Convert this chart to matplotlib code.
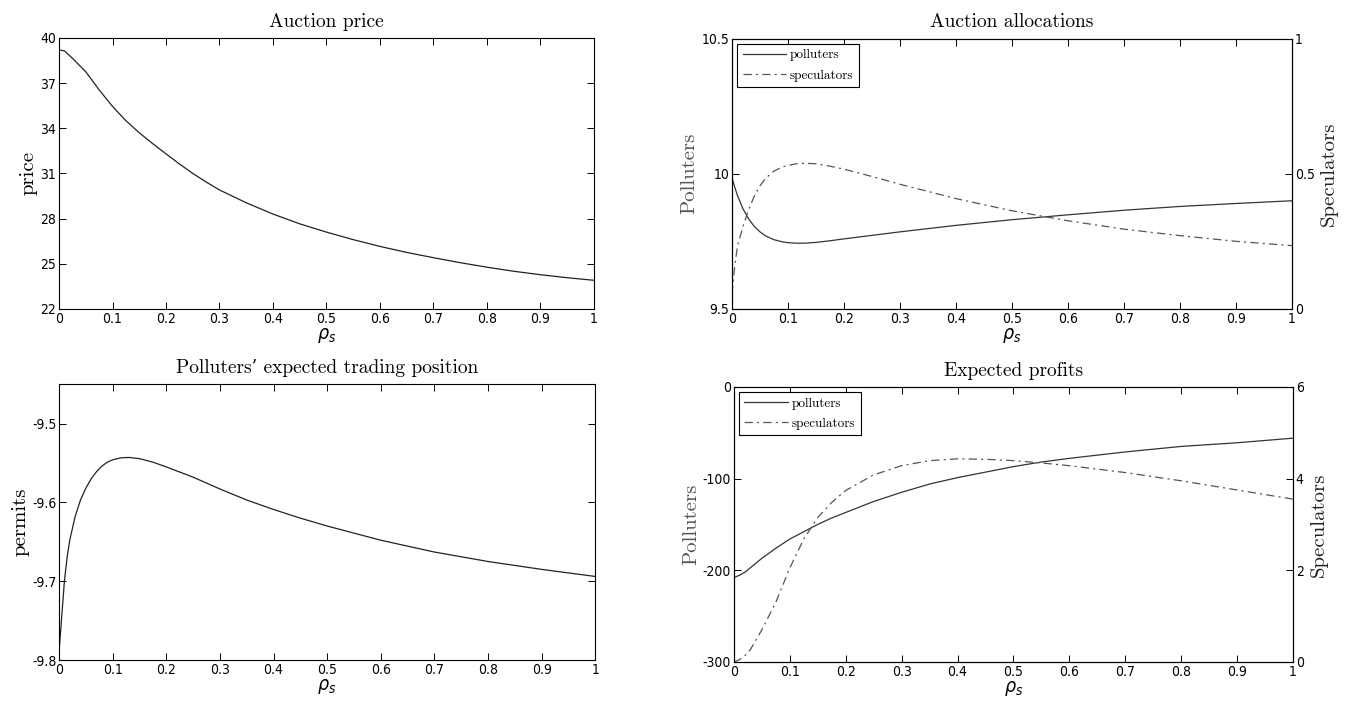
import matplotlib
matplotlib.use('Agg')
import matplotlib.pyplot as plt

# values
rho_price = [0, 0.01, 0.025, 0.05, 0.075, 0.1, 0.125, 0.15, 0.175, 0.2, 0.225, 0.25,
             0.275, 0.3, 0.35, 0.4, 0.45, 0.5, 0.55, 0.6, 0.65, 0.7, 0.75, 0.8, 0.85,
             0.9, 0.95, 1.0]
price = [39.2, 39.14, 38.65, 37.75, 36.55, 35.45, 34.5, 33.7, 32.98, 32.3, 31.63, 31.0,
         30.43, 29.9, 29.05, 28.3, 27.65, 27.1, 26.6, 26.15, 25.75, 25.4, 25.07, 24.77,
         24.5, 24.27, 24.07, 23.9]

rho_pos = [0, 0.005, 0.01, 0.015, 0.02, 0.03, 0.04, 0.05, 0.06, 0.07, 0.08, 0.09, 0.1,
           0.115, 0.13, 0.15, 0.175, 0.2, 0.25, 0.3, 0.35, 0.4, 0.45, 0.5, 0.55, 0.6,
           0.7, 0.8, 0.9, 1.0]
position = [-9.79, -9.745, -9.70, -9.67, -9.648, -9.618, -9.597, -9.582, -9.570, -9.561,
            -9.554, -9.549, -9.546, -9.5435, -9.543, -9.5445, -9.549, -9.555, -9.568,
            -9.583, -9.597, -9.609, -9.620, -9.630, -9.639, -9.648, -9.663, -9.675,
            -9.685, -9.694]

rho_alloc = [0, 0.005, 0.01, 0.02, 0.03, 0.04, 0.05, 0.06, 0.075, 0.09, 0.1, 0.115, 0.13,
             0.15, 0.175, 0.2, 0.25, 0.3, 0.4, 0.5, 0.6, 0.7, 0.8, 0.9, 1.0]
alloc_polluters = [9.986, 9.95, 9.918, 9.869, 9.832, 9.805, 9.785, 9.770, 9.756, 9.748,
                   9.745, 9.743, 9.743, 9.746, 9.752, 9.759, 9.772, 9.785, 9.809, 9.83,
                   9.848, 9.865, 9.879, 9.89, 9.9]
alloc_speculators = [0.055, 0.16, 0.234, 0.307, 0.369, 0.418, 0.455, 0.483, 0.51, 0.525,
                     0.531, 0.537, 0.539, 0.537, 0.528, 0.517, 0.49, 0.461, 0.408, 0.363,
                     0.326, 0.295, 0.271, 0.25, 0.234]

rho_profit = [0, 0.01, 0.02, 0.03, 0.05, 0.075, 0.1, 0.125, 0.15, 0.175, 0.2, 0.25, 0.3,
              0.35, 0.4, 0.45, 0.5, 0.55, 0.6, 0.7, 0.8, 0.9, 1.0]
profit_polluters = [-208, -205.5, -202, -197, -187, -176, -166, -158, -150, -143, -137,
                    -125, -115, -106, -99, -93, -87, -82, -78, -71, -65, -61, -56]
profit_speculators = [0, 0.05, 0.14, 0.28, 0.7, 1.3, 2.05, 2.68, 3.15, 3.48, 3.74, 4.08,
                      4.28, 4.39, 4.43, 4.42, 4.39, 4.34, 4.28, 4.13, 3.95, 3.75, 3.55]

x_ticks = [0, 0.1, 0.2, 0.3, 0.4, 0.5, 0.6, 0.7, 0.8, 0.9, 1]
x_tick_labels = ['0', '0.1', '0.2', '0.3', '0.4', '0.5', '0.6', '0.7', '0.8', '0.9', '1']

plt.rcParams['font.family'] = ['DejaVu Sans']
plt.rcParams['font.stretch'] = 'condensed'
plt.rcParams['axes.unicode_minus'] = False
plt.rcParams['lines.scale_dashes'] = False
plt.rcParams['axes.linewidth'] = 0.8

serif = ['cmr10', 'DejaVu Serif']
tick_size = 10
title_size = 14
ylab_size = 15
dashdot = (0, (6, 3, 1.5, 3))

fig = plt.figure(figsize=(13.54, 7.02), dpi=100)


def style_axes(ax, right=True):
    ax.set_xlim(0, 1)
    ax.set_xticks(x_ticks)
    ax.set_xticklabels(x_tick_labels)
    ax.tick_params(direction='in', length=5, width=0.7, labelsize=tick_size,
                   top=True, right=right, pad=2)
    ax.set_xlabel(r'$\rho_s$', fontsize=14, labelpad=0)


# Auction price
ax1 = fig.add_axes([0.0436, 0.560, 0.395, 0.386])
ax1.plot(rho_price, price, color='#222222', lw=0.9)
ax1.set_ylim(22, 40)
ax1.set_yticks([22, 25, 28, 31, 34, 37, 40])
style_axes(ax1)
ax1.set_title('Auction price', family=serif, fontsize=title_size, pad=8)
ax1.set_ylabel('price', family=serif, fontsize=ylab_size, labelpad=2)

# Polluters' expected trading position
ax3 = fig.add_axes([0.0436, 0.0598, 0.396, 0.393])
ax3.plot(rho_pos, position, color='#222222', lw=0.9)
ax3.set_ylim(-9.8, -9.45)
ax3.set_yticks([-9.8, -9.7, -9.6, -9.5])
ax3.set_yticklabels(['-9.8', '-9.7', '-9.6', '-9.5'])
style_axes(ax3)
ax3.set_title('Polluters\u2019 expected trading position', family=serif,
              fontsize=title_size, pad=8)
ax3.set_ylabel('permits', family=serif, fontsize=ylab_size, labelpad=2)


def twin_panel(rect, x, yl, yr, yl_lim, yl_ticks, yl_labels, yr_lim, yr_ticks,
               yr_labels, title):
    ax = fig.add_axes(rect)
    l1, = ax.plot(x, yl, color='#333333', lw=0.9, label='polluters')
    ax.set_ylim(*yl_lim)
    ax.set_yticks(yl_ticks)
    ax.set_yticklabels(yl_labels)
    style_axes(ax, right=False)
    ax.set_title(title, family=serif, fontsize=title_size, pad=8)
    ax.set_ylabel('Polluters', family=serif, fontsize=ylab_size, color='#555555',
                  labelpad=2)
    axr = ax.twinx()
    l2, = axr.plot(x, yr, color='#555555', lw=0.9, ls=dashdot, label='speculators')
    axr.set_ylim(*yr_lim)
    axr.set_yticks(yr_ticks)
    axr.set_yticklabels(yr_labels)
    axr.tick_params(direction='in', length=5, width=0.7, labelsize=tick_size, pad=2)
    axr.set_ylabel('Speculators', family=serif, fontsize=ylab_size, color='#222222',
                   labelpad=4)
    leg = axr.legend(handles=[l1, l2], loc='upper left', fancybox=False,
                     framealpha=1, edgecolor='black', prop={'family': serif, 'size': 9.5},
                     handlelength=3.3, borderaxespad=0.4, borderpad=0.4,
                     labelspacing=0.6, handletextpad=0.3)
    leg.get_frame().set_linewidth(0.8)
    return ax, axr


twin_panel([0.5406, 0.560, 0.4136, 0.385], rho_alloc, alloc_polluters, alloc_speculators,
           (9.5, 10.5), [9.5, 10, 10.5], ['9.5', '10', '10.5'],
           (0, 1), [0, 0.5, 1], ['0', '0.5', '1'], 'Auction allocations')

twin_panel([0.542, 0.057, 0.413, 0.392], rho_profit, profit_polluters, profit_speculators,
           (-300, 0), [-300, -200, -100, 0], ['-300', '-200', '-100', '0'],
           (0, 6), [0, 2, 4, 6], ['0', '2', '4', '6'], 'Expected profits')

fig.savefig('out.png', dpi=100)
